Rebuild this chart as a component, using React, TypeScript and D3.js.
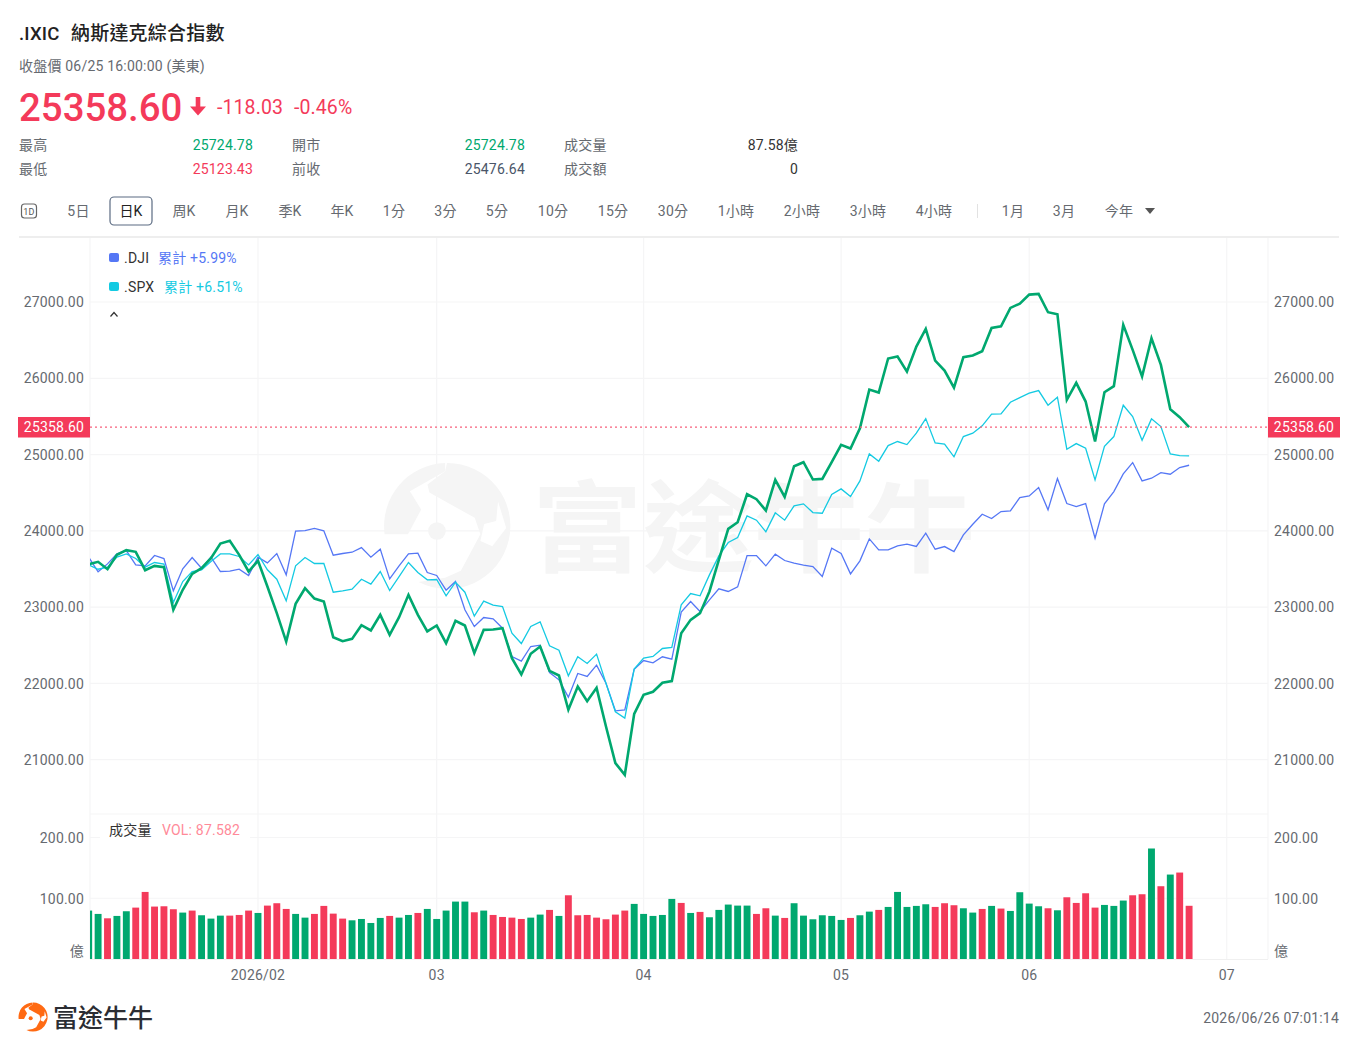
import React from "react";
import * as d3 from "d3";

const FONT = "Roboto, 'Noto Sans CJK TC', sans-serif";
const GREEN = "#00a86f";
const RED = "#f43a5a";
const BLUE = "#5577f5";
const CYAN = "#14cae2";
const GRAY = "#666a70";
const GRID = "#f5f5f6";

const ixic = [
  23563,23594,23497,23685,23747,23725,23484,23541,23524,22965,23227,23436,23511,23642,23834,23869,
  23685,23467,23607,23270,22921,22549,23043,23248,23113,23074,22606,22554,22584,22763,22694,22899,
  22637,22868,23161,22899,22681,22759,22528,22820,22759,22397,22702,22707,22724,22331,22117,22388,
  22484,22165,22104,21654,21960,21767,21942,21435,20955,20802,21601,21850,21890,22008,22030,
  22658,22833,22921,23205,23620,24026,24113,24480,24415,24266,24668,24446,24847,24900,24673,24681,
  24900,25127,25079,25345,25852,25813,26259,26285,26088,26416,
  26647,26232,26101,25878,26276,26298,26355,26660,26682,26923,26979,27097,27106,26866,26840,25717,
  25940,25695,25171,25817,25896,26700,26372,26023,26525,26175,25594,25490,25358.6,
];
const dji = [
  23655,23463,23567,23698,23742,23554,23541,23677,23637,23214,23502,23650,23511,23655,23467,23471,
  23497,23414,23655,23580,23703,23423,23996,24004,24031,24000,23681,23703,23720,23781,23655,23760,
  23371,23541,23699,23707,23454,23415,23222,23336,22965,22746,22864,22847,22724,22353,22292,22484,
  22501,22143,22047,21820,22130,22091,22239,22003,21641,21654,22187,22300,22270,22349,22318,
  22934,23074,22943,23096,23240,23205,23266,23676,23676,23541,23694,23611,23576,23550,23532,23401,
  23773,23703,23436,23607,23895,23751,23751,23803,23825,23795,
  23969,23759,23794,23729,23947,24087,24218,24161,24253,24262,24437,24458,24568,24275,24686,24358,
  24319,24358,23904,24354,24515,24747,24895,24655,24690,24764,24742,24830,24860,
];
const spx = [
  23554,23497,23524,23655,23698,23637,23524,23585,23563,23061,23336,23467,23489,23598,23698,23698,
  23664,23554,23690,23489,23366,23082,23541,23650,23572,23572,23196,23214,23235,23366,23301,23467,
  23218,23401,23585,23454,23358,23362,23148,23327,23196,22882,23078,23026,23008,22659,22523,22746,
  22807,22493,22436,22100,22349,22261,22384,22003,21628,21545,22187,22331,22353,22458,22471,
  23030,23178,23148,23423,23672,23847,23912,24196,24140,23987,24236,24140,24328,24354,24240,24231,
  24476,24550,24450,24655,25009,24913,25118,25171,25131,25280,
  25472,25153,25136,24970,25236,25280,25376,25529,25533,25686,25747,25804,25839,25647,25752,25070,
  25144,25083,24668,25109,25236,25647,25498,25188,25468,25367,25009,24987,24983,
];
const volume = [
  79.7,74.2,67.0,70.9,78.6,84.6,110.4,86.3,86.8,81.9,76.4,79.7,72.0,66.5,71.4,71.4,72.5,79.7,75.8,87.9,
  91.8,82.4,74.2,68.1,74.2,87.4,74.7,66.5,63.7,65.9,59.3,67.6,70.9,68.1,72.5,75.8,82.4,65.9,79.7,94.5,
  94.5,76.9,79.7,72.5,69.2,68.1,65.9,68.1,73.1,80.8,70.9,104.9,72.0,72.5,68.1,65.4,73.1,79.7,90.7,74.2,
  70.9,72.5,98.9,92.3,75.8,77.5,68.7,80.8,89.6,87.9,87.9,74.2,83.5,71.4,67.6,91.8,71.4,65.4,72.0,70.9,
  64.3,67.6,72.0,78.0,80.8,85.7,110.4,85.7,87.4,90.1,85.7,91.8,88.5,83.5,76.4,82.4,87.4,83.0,79.1,109.9,
  91.2,86.8,83.5,80.2,101.6,92.3,108.2,84.6,89.0,87.4,96.2,104.9,106.6,181.9,119.8,139.0,142.3,87.582,
];
const volumeDir =
  "ggrggrrrrr" + "grgggrrrgr" + "rrggrrrrgg" + "ggrggrgggg" + "grgrrrrggr" + "grrrrrrrgg" +
  "gggrgrgggg" + "grrgrggggg" + "grggrggggg" + "rrrggrgrgg" + "ggrgrrrrgg" + "grrgrgrr";

const priceTicks = [27000, 26000, 25000, 24000, 23000, 22000, 21000];
const volumeTicks = [200, 100];
const monthIndex = [18, 37, 59, 80, 100, 121];
const monthLabels = ["2026/02", "03", "04", "05", "06", "07"];
const lastClose = 25358.6;

const tabs = ["5日","日K","周K","月K","季K","年K","1分","3分","5分","10分","15分","30分","1小時","2小時","3小時","4小時","1月","3月","今年"];
const tabCenters = [78.5,131,184,237,290,342,394,445.5,497,553,613,673,736,802,868,934,1013,1064,1119];

const statsLabels = [["最高","開市","成交量"],["最低","前收","成交額"]];
const statsValues = [["25724.78","25724.78","87.58億"],["25123.43","25476.64","0"]];
const statsColors = [[GREEN,GREEN,"#333"],[RED,"#4a5568","#333"]];

function Logo({ cx, cy, rx, ry, color }: { cx: number; cy: number; rx: number; ry: number; color: string }) {
  const p = (x: number, y: number) => `${cx + x * rx} ${cy + y * ry}`;
  const poly = (pts: number[][]) => pts.map(([x, y]) => p(x, y)).join(" L");
  const a = `A${rx} ${ry} 0`;
  return (
    <g>
      <path fill={color} d={`M${p(-0.99, 0.13)} ${a} 0 1 ${p(-0.03, -1)} L${poly([[-0.03,-0.87],[-0.59,-0.55],[-0.41,-0.26],[-0.62,0.13]])} Z`} />
      <path fill={color} d={`M${p(0, -1)} ${a} 1 1 ${p(-0.45, 0.89)} L${poly([[-0.03,0.82],[0.22,0.71],[0.53,0.13],[0.44,-0.13],[-0.28,-0.53],[-0.31,-0.66],[-0.03,-0.87]])} Z`} />
      <path fill="#fff" d={`M${poly([[0.81,-0.39],[0.78,-0.08],[0.59,-0.03],[0.53,0.24],[0.72,0.32],[0.94,0.03]])} Z`} />
      <ellipse cx={cx - 0.16 * rx} cy={cy + 0.08 * ry} rx={0.14 * rx} ry={0.14 * ry} fill={color} />
    </g>
  );
}

export default function App() {
  const x = d3.scaleLinear().domain([0, 117]).range([88.7, 1189.1]);
  const y = d3.scaleLinear().domain([21000, 27000]).range([759.7, 302]);
  const v = d3.scaleLinear().domain([0, 200]).range([959, 837.5]);
  const line = d3.line<number>().x((_, i) => x(i)).y((d) => y(d));
  const L = 90, R = 1268;
  const barW = 6.9;

  return (
    <svg width={1358} height={1050} viewBox="0 0 1358 1050"
      style={{ position: "absolute", left: 0, top: 0, display: "block", background: "#fff", fontFamily: FONT, letterSpacing: "0.2px" }}>
      <defs>
        <clipPath id="plot"><rect x={L} y={238} width={R - L} height={722} /></clipPath>
      </defs>

      {/* header */}
      <text x={19} y={39.5} fontSize={18.5} fontWeight={500} fill="#222">.IXIC</text>
      <text x={71} y={39.5} fontSize={19} fontWeight={500} fill="#222">納斯達克綜合指數</text>
      <text x={19} y={71} fontSize={14} fill={GRAY}>收盤價 06/25 16:00:00 (美東)</text>
      <text x={19} y={121} fontSize={38.4} fontWeight={500} fill={RED} letterSpacing={0}>25358.60</text>
      <path d="M195.7 97 h4.6 v9.5 h5.7 l-8 9 l-8 -9 h5.7 z" fill={RED} />
      <text x={217} y={114} fontSize={19.5} fill={RED} letterSpacing={0.1}>-118.03</text>
      <text x={294} y={114} fontSize={19.5} fill={RED} letterSpacing={0.1}>-0.46%</text>
      {statsLabels.map((row, r) =>
        row.map((t, c) => (
          <g key={`${r}-${c}`}>
            <text x={[19, 292, 564][c]} y={150 + r * 23.7} fontSize={14} fill={GRAY}>{t}</text>
            <text x={[253, 525, 798][c]} y={150 + r * 23.7} fontSize={14} textAnchor="end" fill={statsColors[r][c]}>{statsValues[r][c]}</text>
          </g>
        ))
      )}

      {/* toolbar */}
      <rect x={21.5} y={204} width={15} height={14} rx={3} fill="none" stroke="#666" strokeWidth={1.2} />
      <text x={29} y={214.5} fontSize={9} textAnchor="middle" fill="#555">1D</text>
      <rect x={110} y={197} width={42} height={28} rx={4} fill="none" stroke="#5b6b82" strokeWidth={1.2} />
      {tabs.map((t, i) => (
        <text key={t} x={tabCenters[i]} y={216} fontSize={14} textAnchor="middle" fill={t === "日K" ? "#222" : GRAY}>{t}</text>
      ))}
      <line x1={977.5} x2={977.5} y1={204} y2={218} stroke="#e2e2e2" />
      <path d="M1145 208 h10 l-5 6 z" fill="#555" />
      <rect x={19} y={236} width={1320} height={2} fill="#eeeeee" />

      {/* grid */}
      {[L, R, ...monthIndex.map((m) => x(m))].map((gx, i) => (
        <line key={i} x1={gx} x2={gx} y1={238} y2={959} stroke={GRID} strokeWidth={1.2} />
      ))}
      {priceTicks.map((t) => (
        <line key={t} x1={L} x2={R} y1={y(t)} y2={y(t)} stroke={GRID} strokeWidth={1.2} />
      ))}
      <line x1={L} x2={R} y1={814} y2={814} stroke={GRID} strokeWidth={1.2} />
      {volumeTicks.map((t) => (
        <line key={t} x1={L} x2={R} y1={v(t)} y2={v(t)} stroke={GRID} strokeWidth={1.2} />
      ))}
      <line x1={L} x2={R} y1={959.5} y2={959.5} stroke="#f0f0f0" />

      {/* watermark */}
      <Logo cx={447} cy={526} rx={63} ry={63} color="#f5f5f5" />
      <text transform="translate(531.7 564) scale(1.037 0.92)" fontSize={107} fontWeight={700} fill="#f5f5f5" letterSpacing={0}>富途牛牛</text>

      {/* price lines */}
      <g clipPath="url(#plot)" fill="none" strokeLinejoin="miter">
        <path d={line(dji) ?? ""} stroke={BLUE} strokeWidth={1.3} />
        <path d={line(spx) ?? ""} stroke={CYAN} strokeWidth={1.3} />
        <path d={line(ixic) ?? ""} stroke={GREEN} strokeWidth={2.6} />
      </g>

      {/* last close line */}
      <line x1={L} x2={R} y1={y(lastClose)} y2={y(lastClose)} stroke="#f8607c" strokeWidth={1.2} strokeDasharray="2 3" />
      <rect x={18} y={417} width={72} height={20.5} fill={RED} />
      <text x={54} y={432} fontSize={14} textAnchor="middle" fill="#fff">25358.60</text>
      <rect x={1268} y={417} width={72} height={20.5} fill={RED} />
      <text x={1304} y={432} fontSize={14} textAnchor="middle" fill="#fff">25358.60</text>

      {/* price axis labels */}
      {priceTicks.map((t) => (
        <g key={t}>
          <text x={84} y={y(t) + 5.2} fontSize={14} textAnchor="end" fill={GRAY}>{d3.format(".2f")(t)}</text>
          <text x={1274} y={y(t) + 5.2} fontSize={14} fill={GRAY}>{d3.format(".2f")(t)}</text>
        </g>
      ))}

      {/* legend */}
      <rect x={109} y={253} width={10} height={9} rx={2} fill={BLUE} />
      <text x={124} y={263} fontSize={14} fill="#333">.DJI</text>
      <text x={158} y={263} fontSize={14} fill={BLUE}>累計 +5.99%</text>
      <rect x={109} y={282} width={10} height={9} rx={2} fill={CYAN} />
      <text x={124} y={292} fontSize={14} fill="#333">.SPX</text>
      <text x={164} y={292} fontSize={14} fill={CYAN}>累計 +6.51%</text>
      <path d="M110.5 316.5 L114 312.5 L117.5 316.5" fill="none" stroke="#333" strokeWidth={1.2} />

      {/* volume */}
      <g clipPath="url(#plot)">
        {volume.map((d, i) => (
          <rect key={i} x={x(i) - barW / 2} y={v(d)} width={barW} height={v(0) - v(d)}
            fill={volumeDir[i] === "g" ? GREEN : RED} />
        ))}
      </g>
      <rect x={100} y={821} width={150} height={18} fill="#fff" />
      <text x={109} y={835} fontSize={14} fill="#333">成交量</text>
      <text x={162} y={835} fontSize={14} fill="#ff8a99">VOL: 87.582</text>
      {volumeTicks.map((t) => (
        <g key={t}>
          <text x={84} y={v(t) + 5.5} fontSize={14} textAnchor="end" fill={GRAY}>{d3.format(".2f")(t)}</text>
          <text x={1274} y={v(t) + 5.5} fontSize={14} fill={GRAY}>{d3.format(".2f")(t)}</text>
        </g>
      ))}
      <text x={84} y={956} fontSize={14} textAnchor="end" fill={GRAY}>億</text>
      <text x={1274} y={956} fontSize={14} fill={GRAY}>億</text>

      {/* month labels */}
      {monthIndex.map((m, i) => (
        <text key={m} x={x(m)} y={980} fontSize={14} textAnchor="middle" fill={GRAY}>{monthLabels[i]}</text>
      ))}

      {/* footer */}
      <Logo cx={33} cy={1017} rx={14.5} ry={14.5} color="#ff6a13" />
      <text x={53} y={1027} fontSize={25} fontWeight={500} fill="#2b2d33" letterSpacing={0}>富途牛牛</text>
      <text x={1339} y={1023} fontSize={14} textAnchor="end" fill={GRAY}>2026/06/26 07:01:14</text>
    </svg>
  );
}
